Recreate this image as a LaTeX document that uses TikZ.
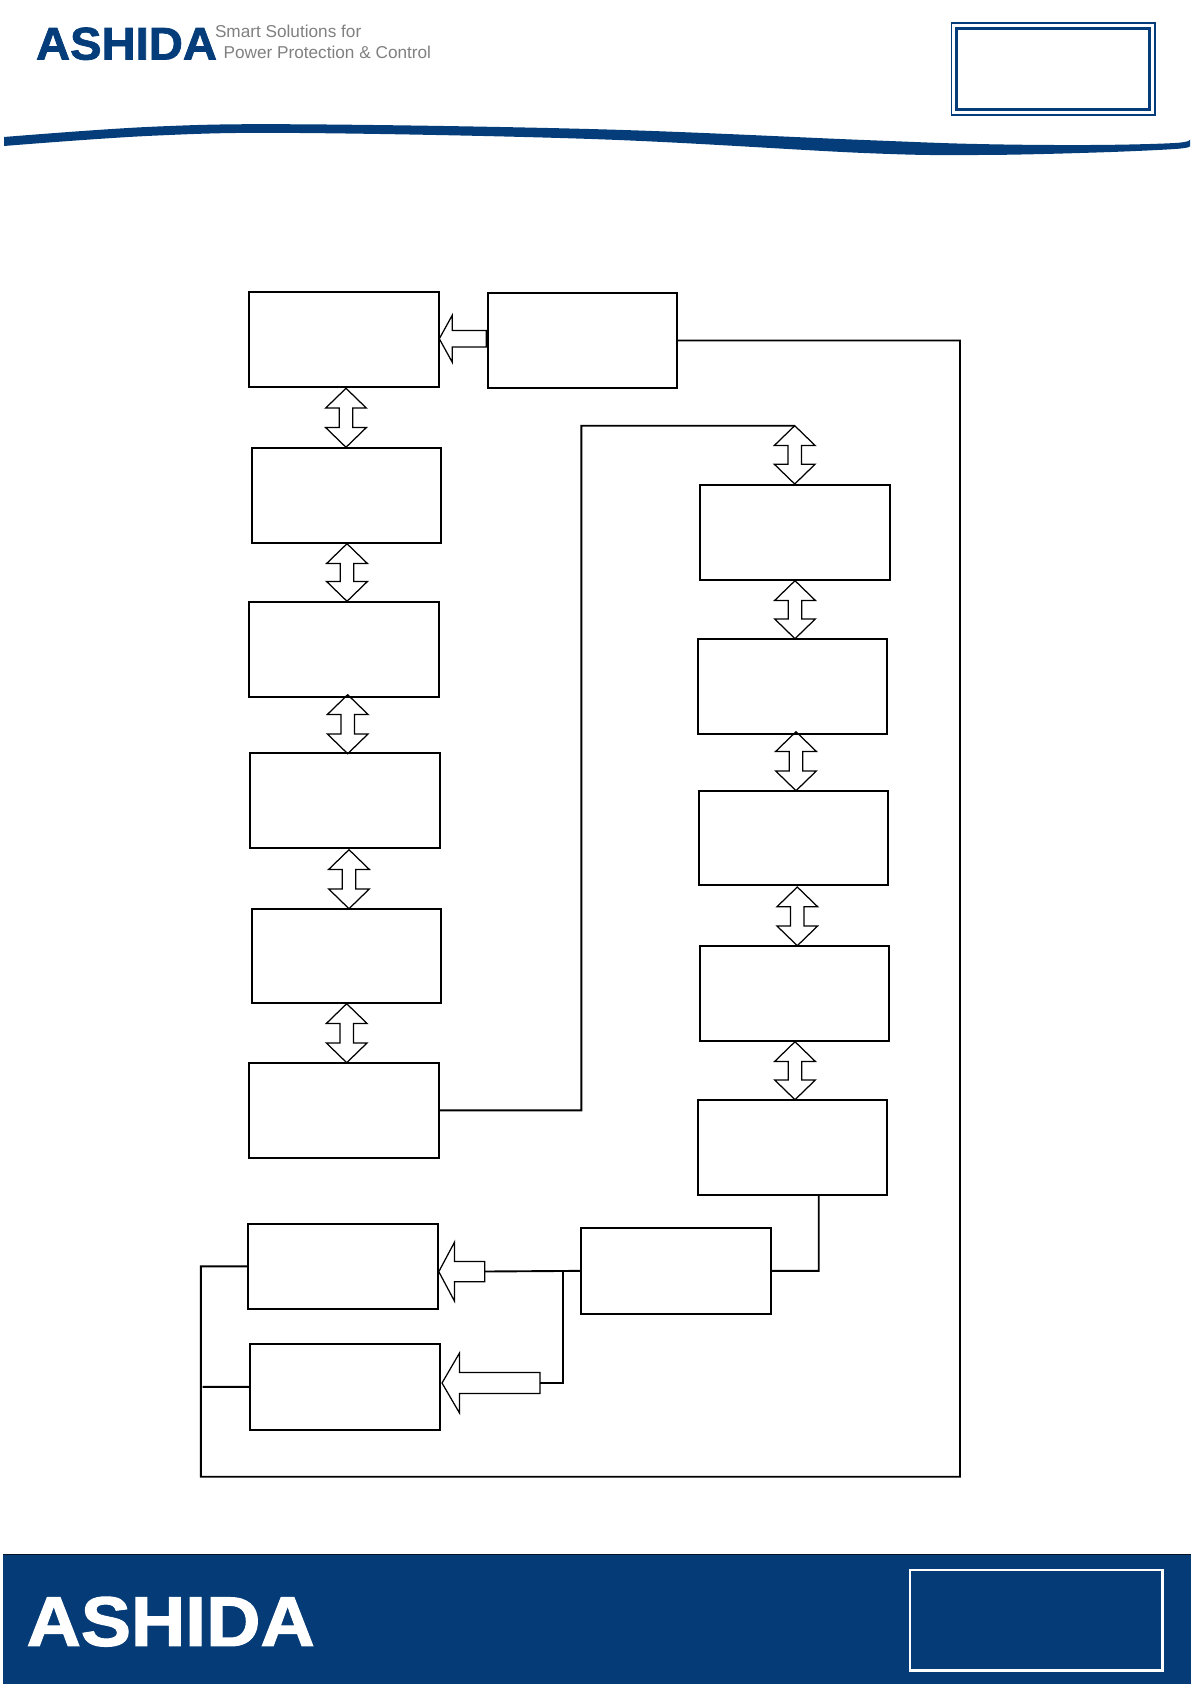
\documentclass[tikz,border=0pt]{standalone}
\usepackage{fontspec}
\usepackage{graphicx}
\setmainfont{Liberation Sans}
\newfontfamily\brandfont[FakeBold=1.6]{Liberation Sans Bold}
\usetikzlibrary{calc}
\definecolor{navy}{HTML}{043D79}
\definecolor{bannerblue}{HTML}{053B76}
\definecolor{taggray}{HTML}{808080}
\tikzset{
  boxn/.style={draw=black,line width=1.9pt,inner sep=0pt,outer sep=0pt,fill=none},
  conn/.style={draw=black,line width=1.9pt},
  blockarrow/.style={draw=black,line width=1.25pt,line join=miter},
  brand/.style={inner sep=0pt,outer sep=0pt,anchor=south west},
  tagline/.style={inner sep=0pt,outer sep=0pt,anchor=base west,text=taggray,font=\fontsize{17.2}{20}\selectfont}
}
% box by its corners
\newcommand{\bx}[5]{\node[boxn,minimum width={(#4-#2)*1pt},minimum height={(#5-#3)*1pt}] (#1) at ({(#2+#4)/2},{(#3+#5)/2}) {};}
% vertical two-headed block arrow: from anchor, to anchor, centre x, tip offsets
\newcommand{\dbl}[5]{%
  \coordinate (xc) at (#3,0);
  \coordinate (t) at ($(#1 -| xc)+(0,#4)$);
  \coordinate (b) at ($(#2 -| xc)+(0,#5)$);
  \draw[blockarrow] (t) -- ++(20.3,19.7) -- ++(-13.6,0) -- ($(b)+(6.7,-19.7)$) -- ++(13.6,0) -- (b)
    -- ++(-20.3,-19.7) -- ++(13.6,0) -- ($(t)+(-6.7,19.7)$) -- ++(-13.6,0) -- cycle;}
% leftward block arrow: tip, head length, head half width, shaft half width, total length
\newcommand{\sarr}[5]{%
  \coordinate (t) at (#1);
  \draw[blockarrow] (t) -- ++(#2,-#3) -- ++(0,#3-#4) -- ++(#5-#2,0) -- ++(0,2*#4) -- ++(#2-#5,0) -- ++(0,#3-#4) -- cycle;}
\begin{document}
\begin{tikzpicture}[x=1pt,y=-1pt]
\useasboundingbox (0,0) rectangle (1191,1684);
% header
\node[brand] (logo) at (36,60) {\resizebox{181pt}{32pt}{\color{navy}\brandfont ASHIDA}};
\node[tagline] (tag1) at (215,37.5) {Smart Solutions for};
\node[tagline] (tag2) at (223.6,58.7) {Power Protection \& Control};
\fill[navy] plot[smooth,tension=0.6] coordinates {(4,137) (153,126.7) (300,124.3) (600,129.3) (864,140) (977,144) (1090,145) (1175,143) (1190,139.3)}
  -- plot[smooth,tension=0.6] coordinates {(1190,146) (1175,149) (1090,152.7) (977,155) (864,153) (600,139.3) (300,133) (153,135.7) (4,146)} -- cycle;
\draw[navy,line width=1.5pt] (951.5,23) rectangle (1155,115);
\draw[navy,line width=3pt] (956.2,28.5) rectangle (1149.6,109.3);
% footer
\fill[bannerblue] (3,1554) rectangle (1191,1684);
\draw[black!70!bannerblue,line width=0.8pt] (3,1554.3) -- (1191,1554.3);
\node[brand] (footlogo) at (26.6,1646.5) {\resizebox{288pt}{49pt}{\color{white}\brandfont ASHIDA}};
\draw[white,line width=2.8pt] (910,1570) rectangle (1162.5,1670.3);
% left column
\bx{A}{249}{291.7}{439}{387}
\bx{B}{252}{448}{441}{543}
\bx{C}{249}{601.7}{439}{696.7}
\bx{D}{250}{752.7}{440}{848}
\bx{E}{252}{909}{441.3}{1003}
\bx{F}{249}{1062.7}{439}{1158}
% top middle
\bx{G}{487.7}{293}{677}{388}
% right column
\bx{H}{700}{485}{890.3}{580}
\bx{I}{697.7}{639}{887}{733.7}
\bx{J}{699}{790.7}{888.3}{884.7}
\bx{K}{700}{945.7}{889}{1041}
\bx{L}{697.7}{1100}{887}{1194.7}
% bottom
\bx{M}{248}{1224}{438}{1308.7}
\bx{N}{250}{1344}{440}{1429.7}
\bx{P}{581}{1227.7}{771}{1314}
% helper points of the connectors
\coordinate (ne) at (960,340.5);
\coordinate (se) at (960,1476.7);
\coordinate (sw) at (200.8,1476.7);
\coordinate (nw) at (200.8,1266.35);
\coordinate (stub) at (202.5,1386.85);
\coordinate (midb) at (581.3,1110.35);
\coordinate (midt) at (581.3,425.7);
\coordinate (lend) at (794.7,425.7);
\coordinate (drop) at (818.7,1270.85);
\coordinate (tailM) at (484.8,1271.5);
\coordinate (tee) at (562.7,1271.5);
\coordinate (teeb) at (562.7,1383);
\coordinate (tailN) at (540,1383);
% connectors
\draw[conn] (G.east) -- (ne) -- (se) -- (sw) -- (nw) -- (M.west);
\draw[conn] (N.west) -- (stub);
\draw[conn] (F.east) -- (midb) -- (midt) -- (lend);
\draw[conn] (P.east) -- (drop) -- (L.south -| drop);
\draw[conn] (P.west) -- (tailM);
\draw[conn] (tee) -- (teeb) -- (tailN);
% two-headed block arrows
\dbl{A.south}{B.north}{346}{1.3}{-0.7}
\dbl{B.south}{C.north}{347}{0.7}{-0.4}
\dbl{C.south}{D.north}{347.7}{-2}{1}
\dbl{D.south}{E.north}{349}{1.7}{-0.3}
\dbl{E.south}{F.north}{346.7}{0.7}{0}
\dbl{lend}{H.north}{794.7}{0}{-1}
\dbl{H.south}{I.north}{795}{0.7}{-0.3}
\dbl{I.south}{J.north}{796}{-2}{0}
\dbl{J.south}{K.north}{797.3}{2.3}{0}
\dbl{K.south}{L.north}{795}{0.7}{-0.3}
% one-headed block arrows
\sarr{$(A.east)+(0.3,-0.6)$}{13}{23.6}{8.2}{47}
\sarr{$(M.east)+(0.8,5.3)$}{15.7}{29.5}{10.2}{46}
\sarr{$(N.east)+(2,-3.85)$}{17.5}{30}{10.5}{98}
\end{tikzpicture}
\end{document}
